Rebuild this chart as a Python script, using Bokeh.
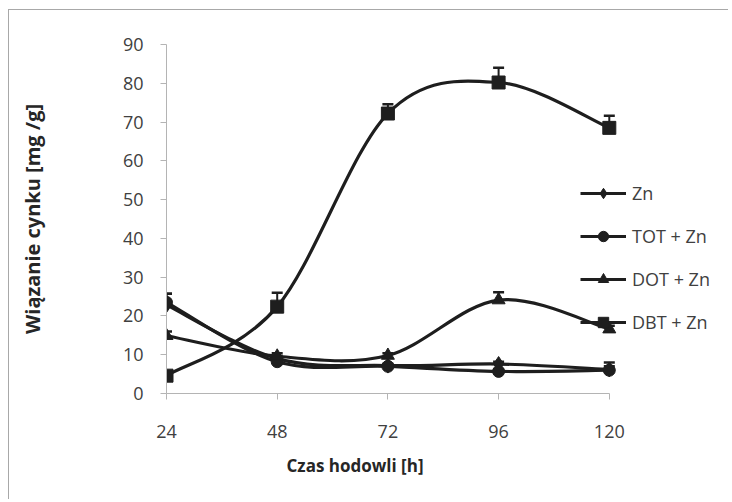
import math
from bokeh.plotting import figure
from bokeh.models import (ColumnDataSource, FixedTicker, Range1d, Legend, LegendItem,
                          Whisker, TeeHead, Title, LinearAxis)
from bokeh.embed import file_html
from bokeh.resources import INLINE

# ---- data ----
hours = [24, 48, 72, 96, 120]
series_names = ["Zn", "TOT + Zn", "DOT + Zn", "DBT + Zn"]
zn = [22.8, 9.0, 7.2, 7.6, 6.2]
tot_zn = [23.5, 8.2, 7.0, 5.7, 6.0]
dot_zn = [14.9, 9.6, 9.8, 24.1, 16.6]
dbt_zn = [4.6, 22.4, 72.2, 80.2, 68.5]
zn_err = [2.9, 0.7, 0.5, 0.6, 1.8]
tot_err = [2.2, 0.6, 0.5, 0.5, 1.0]
dot_err = [1.1, 0.8, 0.6, 2.0, 0.9]
dbt_err = [0.8, 3.6, 2.4, 3.8, 3.1]
y_ticks = [0, 10, 20, 30, 40, 50, 60, 70, 80, 90]
x_title = "Czas hodowli [h]"
y_title = "Wiązanie cynku [mg /g]"

INK = "#1e1e1e"
AXIS = "#b4b4b4"
TXT = "#404040"
FONT = "Open Sans"

p = figure(width=720, height=490, output_backend="svg", toolbar_location=None,
           x_range=Range1d(24, 146.06), y_range=Range1d(0, 90),
           min_border_left=157, min_border_right=0, min_border_top=34, min_border_bottom=107)
p.styles = {"margin-left": "8px", "margin-top": "9px",
            "border-left": "1px solid #a8a8a8", "border-top": "1px solid #a8a8a8"}
p.outline_line_color = None
p.xgrid.visible = False
p.ygrid.visible = False
p.background_fill_color = "white"
p.border_fill_color = "white"

for ax in (p.xaxis[0], p.yaxis[0]):
    ax.axis_line_color = AXIS
    ax.axis_line_width = 1
    ax.major_tick_line_color = AXIS
    ax.major_tick_out = 6
    ax.major_tick_in = 0
    ax.minor_tick_line_color = None
    ax.major_label_text_font = FONT
    ax.major_label_text_font_size = "18px"
    ax.major_label_text_color = TXT

p.xaxis[0].ticker = FixedTicker(ticks=hours)
p.xaxis[0].bounds = (hours[0], hours[-1])
p.xaxis[0].major_label_standoff = 25
p.yaxis[0].ticker = FixedTicker(ticks=y_ticks)
p.yaxis[0].bounds = (y_ticks[0], y_ticks[-1])
p.yaxis[0].major_label_standoff = 17

# x title: off-centre, like the reference
p.add_layout(Title(text=x_title, align="left", offset=120, standoff=22,
                   text_font=FONT, text_font_size="17px", text_font_style="bold",
                   text_color="#262626"), "below")

# y title carried by an invisible axis, placed far left like the reference
y_title_axis = LinearAxis(ticker=FixedTicker(ticks=[]), bounds=(0, 90),
                          axis_line_color=None, major_tick_line_color=None,
                          minor_tick_line_color=None, axis_label=y_title,
                          axis_label_standoff=74, axis_label_text_font=FONT,
                          axis_label_text_font_size="20px",
                          axis_label_text_font_style="bold",
                          axis_label_text_color="#262626")
p.add_layout(y_title_axis, "left")


def smooth(xs, ys):
    """Bezier control points (Catmull-Rom style, as Excel's smoothed lines)."""
    n = len(xs)
    d = dict(x0=[], y0=[], x1=[], y1=[], cx0=[], cy0=[], cx1=[], cy1=[])
    for i in range(n - 1):
        a = i - 1 if i > 0 else i
        b = i + 2 if i + 2 < n else i + 1
        d["x0"].append(xs[i]); d["y0"].append(ys[i])
        d["x1"].append(xs[i + 1]); d["y1"].append(ys[i + 1])
        d["cx0"].append(xs[i] + (xs[i + 1] - xs[a]) / 6)
        d["cy0"].append(ys[i] + (ys[i + 1] - ys[a]) / 6)
        d["cx1"].append(xs[i + 1] - (xs[b] - xs[i]) / 6)
        d["cy1"].append(ys[i + 1] - (ys[b] - ys[i]) / 6)
    return ColumnDataSource(d)


series = [
    (series_names[0], zn, zn_err, "diamond", 15),
    (series_names[1], tot_zn, tot_err, "circle", 12),
    (series_names[2], dot_zn, dot_err, "triangle", 13),
    (series_names[3], dbt_zn, dbt_err, "square", 13),
]

items = []
for name, ys, errs, marker, size in series:
    cs = smooth(hours, ys)
    r_line = p.bezier(x0="x0", y0="y0", x1="x1", y1="y1", cx0="cx0", cy0="cy0",
                      cx1="cx1", cy1="cy1", source=cs, line_color=INK, line_width=3.2)
    src = ColumnDataSource(dict(x=hours, y=ys, up=[v + e for v, e in zip(ys, errs)]))
    w = Whisker(base="x", upper="up", lower="y", source=src, dimension="height",
                line_color=INK, line_width=2,
                upper_head=TeeHead(size=11, line_color=INK, line_width=2.5),
                lower_head=None)
    p.add_layout(w)
    r_mark = p.scatter(x="x", y="y", source=src, marker=marker, size=size,
                       fill_color=INK, line_color=INK)
    items.append(LegendItem(label=name, renderers=[r_line, r_mark]))

legend = Legend(items=items, location=(414, 58), orientation="vertical",
                glyph_width=46, glyph_height=26, label_height=26, spacing=17,
                label_standoff=6, padding=0, margin=0,
                label_text_font=FONT, label_text_font_size="18px", label_text_color=TXT,
                background_fill_alpha=0, border_line_alpha=0)
p.add_layout(legend, "center")

open("out.html", "w").write(file_html(p, INLINE))
